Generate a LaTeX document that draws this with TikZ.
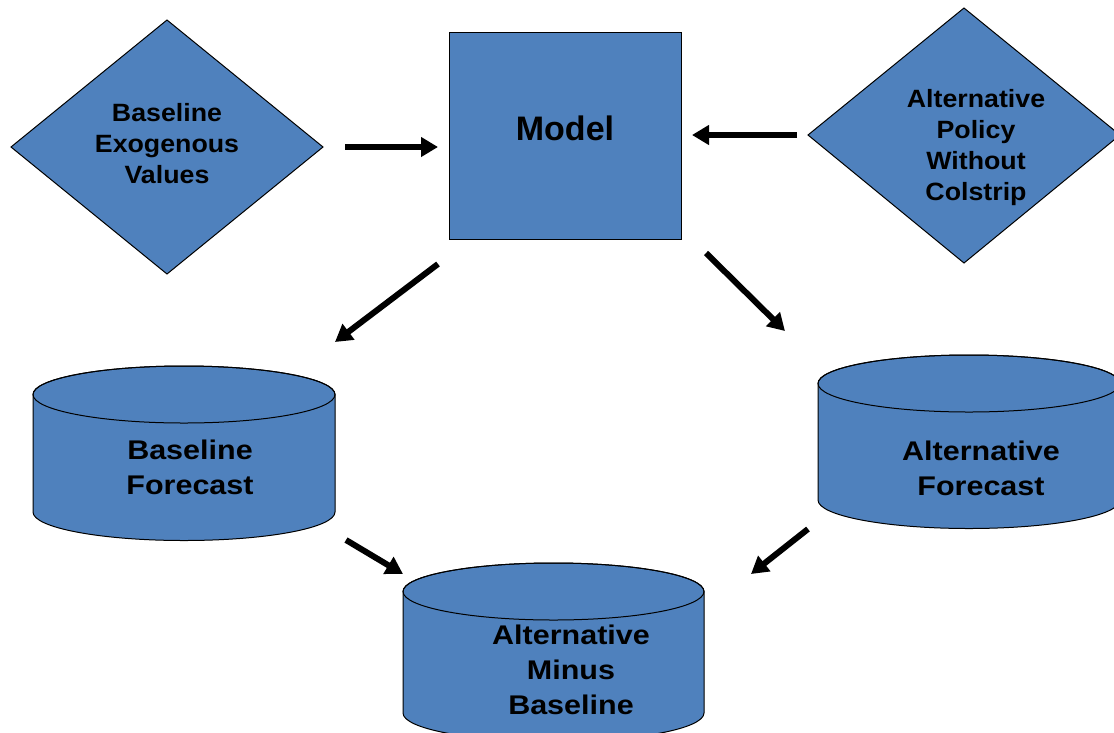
\documentclass[tikz,border=0pt]{standalone}
\usepackage{fontspec}
\setmainfont{Liberation Sans}
\newfontfamily\wideA[FakeStretch=1.07]{Liberation Sans}
\newfontfamily\wideB[FakeStretch=1.13]{Liberation Sans}
\usetikzlibrary{arrows.meta}
\definecolor{boxblue}{HTML}{4F81BD}
\newcommand{\drawcyl}[5]{% cx, topy, boty, rx, ry
  \path[shapefill] ({#1-#4},#2) -- ({#1-#4},#3)
    arc[start angle=180,end angle=0,x radius=#4,y radius=#5]
    -- ({#1+#4},#2)
    arc[start angle=0,end angle=-180,x radius=#4,y radius=#5] -- cycle;
  \draw[line width=1pt] (#1,#2) ellipse [x radius=#4,y radius=#5];
}
\begin{document}
\begin{tikzpicture}[x=1pt,y=-1pt,
  shapefill/.style={fill=boxblue,draw=black,line width=1pt},
  lbl/.style={font=\wideA\fontsize{25}{31}\selectfont\bfseries,align=center,text=black,inner sep=0pt},
  biglbl/.style={font=\wideB\fontsize{27}{35}\selectfont\bfseries,align=center,text=black,inner sep=0pt},
  arr/.style={line width=6pt,-{Triangle[length=17pt,width=19pt]}}]
\useasboundingbox (0,0) rectangle (1114,732);
\fill[white] (0,0) rectangle (1114,732);
\begin{scope}
\clip (0,0) rectangle (1114,732);
% diamonds
\path[shapefill] (167,20) -- (323,147) -- (167,274) -- (11,147) -- cycle;
\node[lbl] (bev) at (167,144) {Baseline\\Exogenous\\Values};
\path[shapefill] (964,8) -- (1120,135) -- (964,263) -- (808,135) -- cycle;
\node[lbl] (apw) at (976,147.5) {Alternative\\Policy\\Without\\Colstrip};
% model
\node[shapefill,minimum width=232pt,minimum height=207pt,inner sep=0pt] (model) at (565,135.5) {};
\node[font=\fontsize{34}{36}\selectfont\bfseries,inner sep=0pt] (modeltxt) at (565,128) {Model};
% cylinders
\drawcyl{184}{394.5}{512}{151}{28.5}
\node[biglbl] (bf) at (190,467) {Baseline\\Forecast};
\drawcyl{969}{383.5}{500}{151}{28.5}
\node[biglbl] (af) at (981,468) {Alternative\\Forecast};
\drawcyl{553.5}{591.5}{713}{150.5}{28.5}
\node[biglbl] (amb) at (571,670) {Alternative\\Minus\\Baseline};
\end{scope}
% arrow ends
\coordinate (a1s) at (345,147);  \coordinate (a1e) at (438,147);
\coordinate (a2s) at (797,135);  \coordinate (a2e) at (692,135);
\coordinate (a3s) at (438,264);  \coordinate (a3e) at (335,342);
\coordinate (a4s) at (706,253);  \coordinate (a4e) at (785,331);
\coordinate (a5s) at (346,540);  \coordinate (a5e) at (403,574);
\coordinate (a6s) at (808,529);  \coordinate (a6e) at (751,574);
\draw[arr] (a1s) -- (a1e);
\draw[arr] (a2s) -- (a2e);
\draw[arr] (a3s) -- (a3e);
\draw[arr] (a4s) -- (a4e);
\draw[arr] (a5s) -- (a5e);
\draw[arr] (a6s) -- (a6e);
\end{tikzpicture}
\end{document}
